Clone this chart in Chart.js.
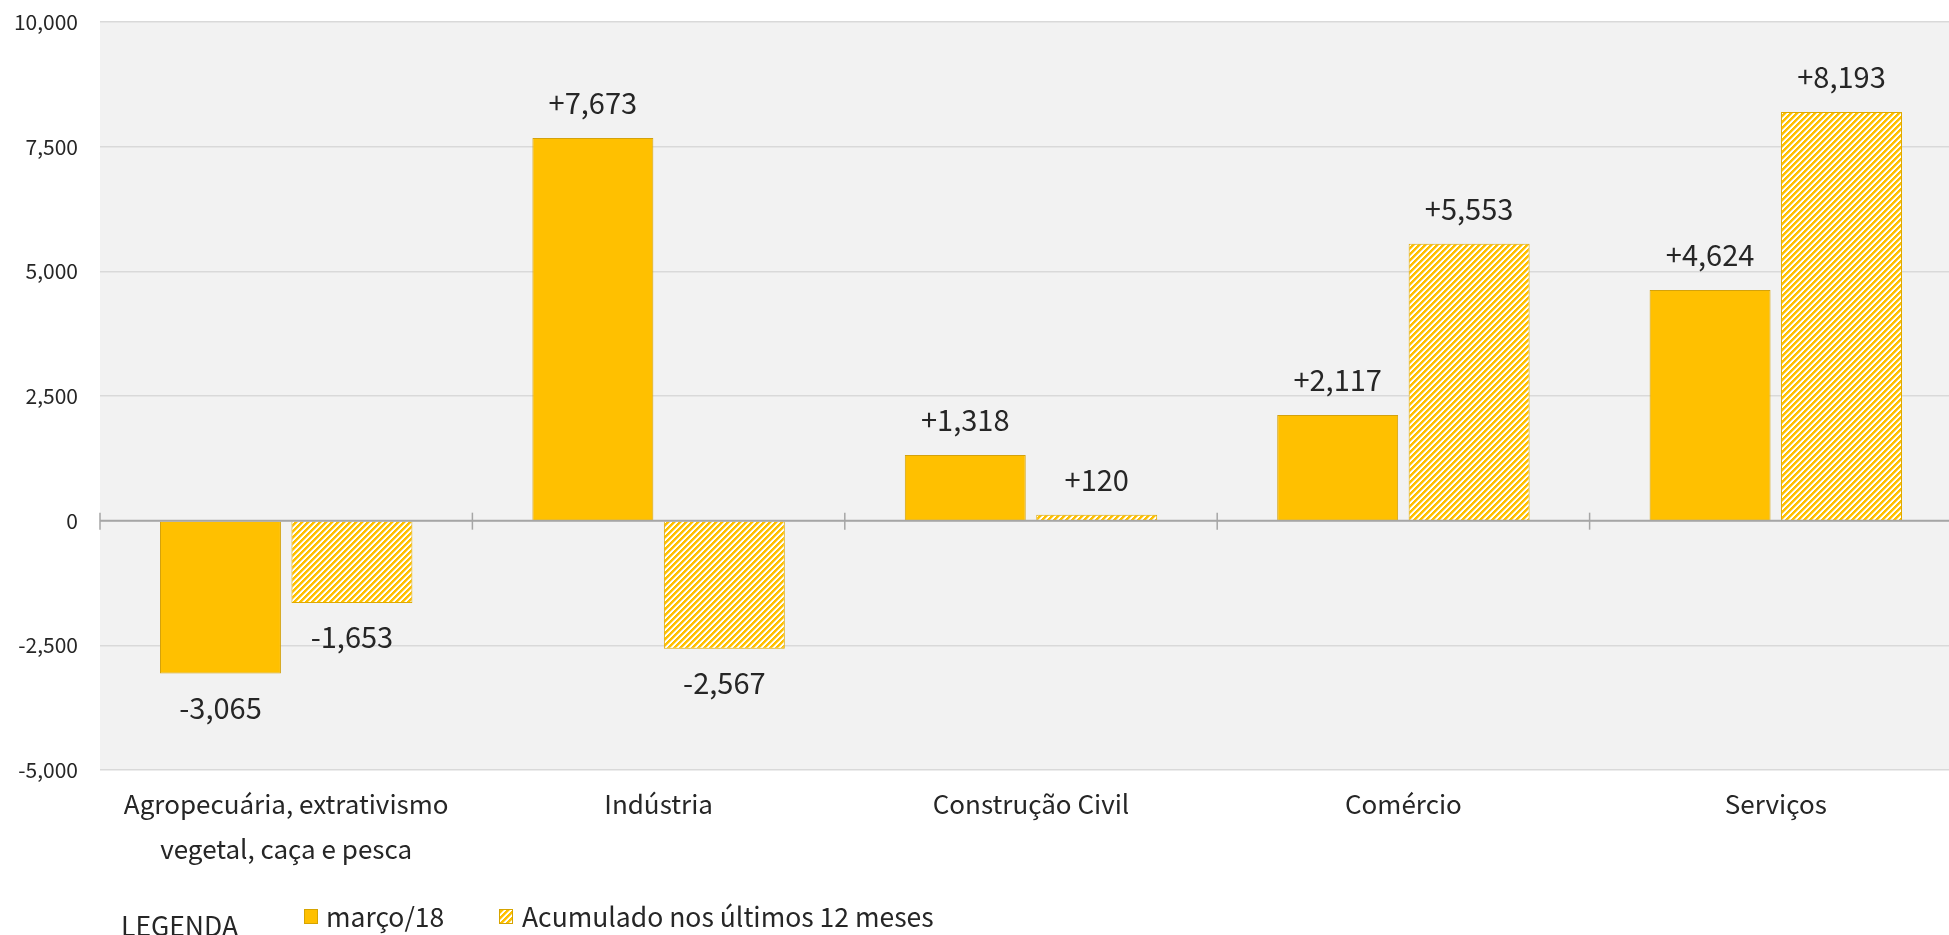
<!DOCTYPE html>
<html>
<head>
<meta charset="utf-8">
<script src="https://cdn.jsdelivr.net/npm/chart.js@4"></script>
<style>
  html, body { margin: 0; padding: 0; background: #ffffff; overflow: hidden; }
  #wrap { position: relative; width: 1962px; height: 935px; }
  #legend {
    position: absolute; left: 0; top: 896px; width: 1100px; height: 40px;
    font-family: "Noto Sans CJK JP", "Noto Sans", sans-serif; font-size: 26.5px; color: #262626;
  }
  #legend span { position: absolute; white-space: nowrap; }
  .sw { position: absolute; width: 14px; height: 15px; box-sizing: border-box; border: 1px solid #d6a400; }
</style>
</head>
<body>
<div id="wrap">
  <canvas id="chart" width="1962" height="935"></canvas>
  <div id="legend">
    <span style="left:121px; top:9px;">LEGENDA</span>
    <div class="sw" id="sw1" style="left:304px; top:13px; background:#ffc000;"></div>
    <span style="left:326px; top:0px;">março/18</span>
    <div class="sw" id="sw2" style="left:499px; top:13px;"></div>
    <span style="left:522px; top:0px;">Acumulado nos últimos 12 meses</span>
  </div>
</div>
<script>
// Chart data
const categories = [
  ['Agropecuária, extrativismo', 'vegetal, caça e pesca'],
  'Indústria',
  'Construção Civil',
  'Comércio',
  'Serviços'
];
const marchValues = [-3065, 7673, 1318, 2117, 4624];
const accumValues = [-1653, -2567, 120, 5553, 8193];
const seriesNames = ['março/18', 'Acumulado nos últimos 12 meses'];
const yTicks = [-5000, -2500, 0, 2500, 5000, 7500, 10000];

const FONT = '"Noto Sans CJK JP", "Noto Sans", sans-serif';
const YELLOW = '#ffc000';

// Build the diagonal hatch pattern (wide upward diagonal)
function makeHatch(size) {
  const c = document.createElement('canvas');
  c.width = size; c.height = size;
  const g = c.getContext('2d');
  const img = g.createImageData(size, size);
  for (let y = 0; y < size; y++) {
    for (let x = 0; x < size; x++) {
      const i = (y * size + x) * 4;
      const k = (x + y) % size;
      // full yellow for half the period, one softened edge pixel
      const t = k < size / 2 ? 1 : (k === size / 2 ? 0.45 : 0);
      img.data[i] = 255;
      img.data[i + 1] = Math.round(255 - 63 * t);
      img.data[i + 2] = Math.round(255 - 255 * t);
      img.data[i + 3] = 255;
    }
  }
  g.putImageData(img, 0, 0);
  return c;
}
const hatchTile = makeHatch(6);
const ctx = document.getElementById('chart').getContext('2d');
const hatch = ctx.createPattern(hatchTile, 'repeat');
document.getElementById('sw2').style.background = 'url(' + hatchTile.toDataURL() + ')';

// Grey plot area behind the bars
const plotBackground = {
  id: 'plotBackground',
  beforeDraw(chart) {
    const a = chart.chartArea;
    const g = chart.ctx;
    g.save();
    g.fillStyle = '#f2f2f2';
    g.fillRect(a.left, a.top, a.right - a.left, a.bottom - a.top);
    g.restore();
  }
};

// Zero line with category separator ticks
const zeroAxis = {
  id: 'zeroAxis',
  afterDatasetsDraw(chart) {
    const g = chart.ctx;
    const x = chart.scales.x;
    const y0 = chart.scales.y.getPixelForValue(0);
    g.save();
    g.strokeStyle = '#a6a6a6';
    g.lineWidth = 2;
    g.beginPath();
    g.moveTo(chart.chartArea.left, y0);
    g.lineTo(chart.chartArea.right, y0);
    g.stroke();
    g.lineWidth = 1.5;
    for (let i = 0; i <= categories.length; i++) {
      const px = x.getPixelForValue(i - 0.5);
      g.beginPath();
      g.moveTo(px, y0 - 8);
      g.lineTo(px, y0 + 9);
      g.stroke();
    }
    g.restore();
  }
};

// Value labels above / below bars
const valueLabels = {
  id: 'valueLabels',
  afterDatasetsDraw(chart) {
    const g = chart.ctx;
    g.save();
    g.font = '29px ' + FONT;
    g.fillStyle = '#262626';
    g.textAlign = 'center';
    g.textBaseline = 'middle';
    chart.data.datasets.forEach((ds, di) => {
      chart.getDatasetMeta(di).data.forEach((bar, i) => {
        const v = ds.data[i];
        const txt = (v > 0 ? '+' : '-') + Math.abs(v).toLocaleString('en-US');
        const ty = v >= 0 ? bar.y - 35 : bar.y + 34;
        g.fillText(txt, bar.x, ty);
      });
    });
    g.restore();
  }
};

new Chart(ctx, {
  type: 'bar',
  data: {
    labels: categories,
    datasets: [
      {
        label: seriesNames[0],
        data: marchValues,
        backgroundColor: YELLOW,
        borderColor: '#d4a20c',
        borderWidth: 1
      },
      {
        label: seriesNames[1],
        data: accumValues,
        backgroundColor: hatch,
        borderColor: '#e0aa00',
        borderWidth: 1
      }
    ]
  },
  options: {
    responsive: false,
    animation: false,
    categoryPercentage: 0.706,
    barPercentage: 0.92,
    layout: { padding: { top: 22, right: 0, bottom: 65, left: 0 } },
    scales: {
      x: {
        grid: { display: false, drawTicks: false },
        border: { display: false },
        ticks: {
          color: '#262626',
          padding: 12,
          maxRotation: 0,
          autoSkip: false,
          font: { family: FONT, size: 26, lineHeight: 1.73 }
        },
        afterFit(scale) { scale.height = 100; }
      },
      y: {
        min: -5000,
        max: 10000,
        afterBuildTicks(scale) { scale.ticks = yTicks.map(v => ({ value: v })); },
        grid: { color: '#d9d9d9', lineWidth: 1.5, drawTicks: false },
        border: { display: false },
        ticks: {
          color: '#262626',
          padding: 22,
          font: { family: FONT, size: 21 },
          callback: v => v.toLocaleString('en-US')
        },
        afterFit(scale) {
          scale.width = 100;
          scale.paddingTop = 0;
          scale.paddingBottom = 0;
        }
      }
    },
    plugins: {
      legend: { display: false },
      tooltip: { enabled: false }
    }
  },
  plugins: [plotBackground, zeroAxis, valueLabels]
});
</script>
</body>
</html>
